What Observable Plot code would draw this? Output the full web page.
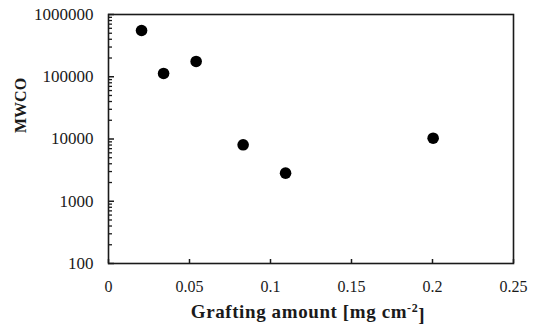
<!DOCTYPE html>
<html>
<head>
<meta charset="utf-8">
<script src="https://cdn.jsdelivr.net/npm/d3@7"></script>
<script src="https://cdn.jsdelivr.net/npm/@observablehq/plot@0.6"></script>
<style>
  html, body { margin: 0; padding: 0; background: white; }
</style>
</head>
<body>
<div id="chart"></div>
<script>
// Data
const grafting = [0.0204, 0.034, 0.0541, 0.0831, 0.1093, 0.2004];
const mwco = [553000, 113000, 176000, 8070, 2830, 10300];

const xTicks = [0, 0.05, 0.1, 0.15, 0.2, 0.25];
const yTicks = [100, 1000, 10000, 100000, 1000000];
const xTitle = "Grafting amount [mg cm-2]";
const yTitle = "MWCO";

const data = grafting.map((g, i) => ({g, m: mwco[i]}));
const yMinor = [];
for (let k = 2; k < 6; k++) for (let j = 2; j <= 9; j++) yMinor.push(j * Math.pow(10, k));

const W = 534, H = 326, mL = 108, mR = 21, mT = 14, mB = 63;
const pw = W - mL - mR, ph = H - mT - mB;
const ink = "#1a1a1a";

const chart = Plot.plot({
  width: W, height: H,
  marginLeft: mL, marginRight: mR, marginTop: mT, marginBottom: mB,
  style: {fontFamily: "'Liberation Serif', 'Times New Roman', serif", background: "white", color: ink, overflow: "visible"},
  x: {domain: [0, 0.25]},
  y: {type: "log", domain: [100, 1e6]},
  marks: [
    Plot.axisX(xTicks, {tickSize: 0, tickPadding: 17, fontSize: 16, tickFormat: d => String(d), label: null}),
    Plot.axisY(yTicks, {tickSize: 0, tickPadding: 15, fontSize: 17, tickFormat: d => String(d), label: null}),
    Plot.tickX(xTicks, {x: d => d, stroke: ink, strokeWidth: 1.5, insetTop: ph - 4}),
    Plot.tickY(yTicks, {y: d => d, stroke: ink, strokeWidth: 1.5, insetRight: pw - 6}),
    Plot.tickY(yMinor, {y: d => d, stroke: ink, strokeWidth: 1.3, insetRight: pw - 4}),
    Plot.frame({stroke: ink, strokeWidth: 1.6}),
    Plot.dot(data, {x: "g", y: "m", r: 5.8, fill: "black", stroke: null}),
    Plot.text([yTitle], {frameAnchor: "left", dx: -88, dy: -6, rotate: -90, fontSize: 16, fontWeight: "bold", fill: ink}),
    Plot.text([xTitle], {frameAnchor: "bottom", dx: -3, dy: 54, fontSize: 19, fontWeight: "bold", fill: ink})
  ]
});

// superscript for the unit
d3.select(chart).selectAll("text").filter(function() { return this.textContent === xTitle; })
  .each(function() {
    const t = d3.select(this);
    t.text(null);
    t.style("letter-spacing", "0.6px");
    t.append("tspan").text("Grafting amount [mg cm");
    t.append("tspan").attr("dy", "-0.45em").attr("font-size", "12").text("-2");
    t.append("tspan").attr("dy", "0.45em").text("]");
  });

document.getElementById("chart").appendChild(chart);
</script>
</body>
</html>
